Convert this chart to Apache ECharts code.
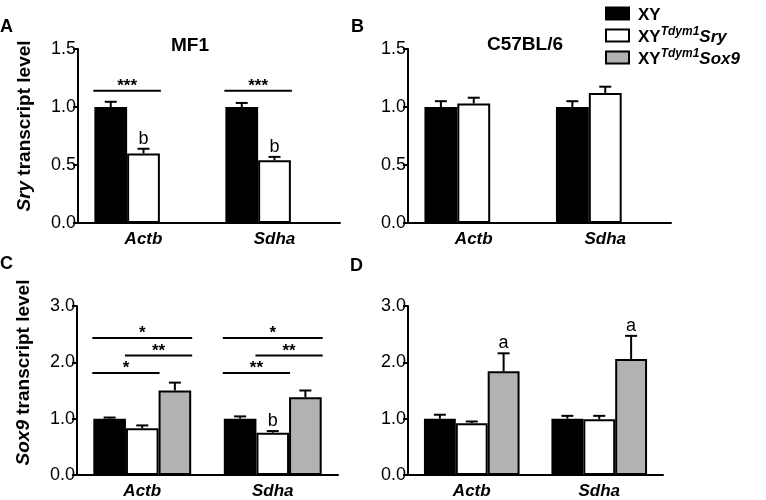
<!DOCTYPE html>
<html><head><meta charset="utf-8">
<script src="https://cdn.jsdelivr.net/npm/echarts@6/dist/echarts.min.js"></script>
<style>html,body{margin:0;padding:0;background:#fff}#c{width:766px;height:500px}</style>
</head><body><div id="c"></div>
<script>
const categories = ['Actb', 'Sdha'];
const seriesNames = ['XY', 'XY Tdym1 Sry', 'XY Tdym1 Sox9'];
const yTicksSry = [0, 0.5, 1.0, 1.5];
const yTicksSox9 = [0, 1.0, 2.0, 3.0];

// Panel A (MF1) - Sry transcript level
const A_XY = [1.00, 1.00];      const A_XY_SEM = [0.045, 0.035];
const A_SRY = [0.60, 0.54];     const A_SRY_SEM = [0.04, 0.03];
const A_SOX9 = [null, null];    const A_SOX9_SEM = [null, null];
// Panel B (C57BL/6) - Sry transcript level
const B_XY = [1.00, 1.00];      const B_XY_SEM = [0.05, 0.05];
const B_SRY = [1.03, 1.12];     const B_SRY_SEM = [0.05, 0.055];
const B_SOX9 = [null, null];    const B_SOX9_SEM = [null, null];
// Panel C (MF1) - Sox9 transcript level
const C_XY = [1.00, 1.00];      const C_XY_SEM = [0.02, 0.04];
const C_SRY = [0.83, 0.75];     const C_SRY_SEM = [0.05, 0.03];
const C_SOX9 = [1.50, 1.38];    const C_SOX9_SEM = [0.14, 0.12];
// Panel D (C57BL/6) - Sox9 transcript level
const D_XY = [1.00, 1.00];      const D_XY_SEM = [0.07, 0.05];
const D_SRY = [0.92, 0.99];     const D_SRY_SEM = [0.03, 0.06];
const D_SOX9 = [1.84, 2.06];    const D_SOX9_SEM = [0.32, 0.41];

// Significance brackets: [category, fromBar, toBar, level, label]
const A_SIG = [[0, 0, 1, 1.14, '***'], [1, 0, 1, 1.14, '***']];
const C_SIG = [
  [0, 0, 2, 2.43, '*'], [0, 1, 2, 2.12, '**'], [0, 0, 1, 1.81, '*'],
  [1, 0, 2, 2.43, '*'], [1, 1, 2, 2.12, '**'], [1, 0, 1, 1.81, '**']
];
// Letter annotations: [category, bar, letter]
const A_LET = [[0, 1, 'b'], [1, 1, 'b']];
const C_LET = [[1, 1, 'b']];
const D_LET = [[0, 2, 'a'], [1, 2, 'a']];

const FONT = 'Liberation Sans, Arial, Helvetica, sans-serif';
const BAR_FRAC = 0.25; // each bar = 25% of the category band

const panels = [
  {grid: {left: 78, top: 49, width: 262, height: 174}, max: 1.5, interval: 0.5,
   means: [A_XY, A_SRY, A_SOX9], sems: [A_XY_SEM, A_SRY_SEM, A_SOX9_SEM], sig: A_SIG, let: A_LET,
   yName: '{i|Sry} transcript level', namePad: 20},
  {grid: {left: 408, top: 49, width: 263, height: 174}, max: 1.5, interval: 0.5,
   means: [B_XY, B_SRY, B_SOX9], sems: [B_XY_SEM, B_SRY_SEM, B_SOX9_SEM], sig: [], let: [],
   yName: '', namePad: 0},
  {grid: {left: 77, top: 306, width: 261, height: 170}, max: 3, interval: 1,
   means: [C_XY, C_SRY, C_SOX9], sems: [C_XY_SEM, C_SRY_SEM, C_SOX9_SEM], sig: C_SIG, let: C_LET,
   yName: '{i|Sox9} transcript level', namePad: 36},
  {grid: {left: 408, top: 306, width: 255, height: 170}, max: 3, interval: 1,
   means: [D_XY, D_SRY, D_SOX9], sems: [D_XY_SEM, D_SRY_SEM, D_SOX9_SEM], sig: [], let: D_LET,
   yName: '', namePad: 0}
];

const barStyles = [
  {color: '#000000', borderColor: '#000000', borderWidth: 2},
  {color: '#ffffff', borderColor: '#000000', borderWidth: 2},
  {color: '#b2b2b2', borderColor: '#000000', borderWidth: 2}
];

const grids = [], xAxes = [], yAxes = [], series = [];
panels.forEach((p, pi) => {
  grids.push(p.grid);
  xAxes.push({
    type: 'category', gridIndex: pi, data: categories,
    axisLine: {lineStyle: {color: '#000', width: 2}},
    axisTick: {alignWithLabel: true, length: 5, lineStyle: {width: 2, color: '#000'}},
    axisLabel: {color: '#000', fontFamily: FONT, fontSize: 17, fontWeight: 'bold', fontStyle: 'italic', margin: 8}
  });
  yAxes.push({
    type: 'value', gridIndex: pi, min: 0, max: p.max, interval: p.interval,
    name: p.yName, nameLocation: 'middle', nameGap: 44,
    nameTextStyle: {color: '#000', fontFamily: FONT, fontSize: 19, fontWeight: 'bold',
      padding: [0, 0, 0, p.namePad],
      rich: {i: {fontStyle: 'italic', fontWeight: 'bold', fontSize: 19, fontFamily: FONT, color: '#000'}}},
    axisLine: {show: true, lineStyle: {color: '#000', width: 2}},
    axisTick: {show: true, length: 5, lineStyle: {width: 2, color: '#000'}},
    splitLine: {show: false},
    axisLabel: {color: '#000', fontFamily: FONT, fontSize: 18, margin: 2, formatter: v => v.toFixed(1)}
  });
  p.means.forEach((m, si) => {
    series.push({
      type: 'bar', name: seriesNames[si], xAxisIndex: pi, yAxisIndex: pi, data: m,
      barGap: '0%', barCategoryGap: '25%', itemStyle: barStyles[si], z: 2
    });
  });
  // error bars
  const errData = [];
  p.means.forEach((m, si) => m.forEach((v, ci) => {
    if (v != null) errData.push([ci, si, v, p.sems[si][ci]]);
  }));
  series.push({
    type: 'custom', xAxisIndex: pi, yAxisIndex: pi, data: errData, z: 3, silent: true,
    renderItem: (params, api) => {
      const ci = api.value(0), si = api.value(1), m = api.value(2), e = api.value(3);
      const band = api.size([1, 0])[0];
      const base = api.coord([ci, m]);
      const x = base[0] + (si - 1) * band * BAR_FRAC;
      const yTop = api.coord([ci, m + e])[1];
      const cap = 6;
      return {type: 'group', children: [
        {type: 'line', shape: {x1: x, y1: base[1], x2: x, y2: yTop}, style: {stroke: '#000', lineWidth: 2}},
        {type: 'line', shape: {x1: x - cap, y1: yTop, x2: x + cap, y2: yTop}, style: {stroke: '#000', lineWidth: 2}}
      ]};
    }
  });
  // significance brackets
  if (p.sig.length) series.push({
    type: 'custom', xAxisIndex: pi, yAxisIndex: pi, data: p.sig, z: 3, silent: true,
    renderItem: (params, api) => {
      const d = p.sig[params.dataIndex];
      const band = api.size([1, 0])[0];
      const c = api.coord([d[0], d[3]]);
      const bw = band * BAR_FRAC;
      const x1 = c[0] + (d[1] - 1) * bw - bw / 2 - 1;
      const x2 = c[0] + (d[2] - 1) * bw + bw / 2 + 1;
      return {type: 'group', children: [
        {type: 'line', shape: {x1: x1, y1: c[1], x2: x2, y2: c[1]}, style: {stroke: '#000', lineWidth: 2}},
        {type: 'text', x: (x1 + x2) / 2, y: c[1] + 4,
         style: {text: d[4], fill: '#000', font: 'bold 17px ' + FONT, textAlign: 'center', textVerticalAlign: 'bottom'}}
      ]};
    }
  });
  // letters
  if (p.let.length) series.push({
    type: 'custom', xAxisIndex: pi, yAxisIndex: pi, data: p.let, z: 3, silent: true,
    renderItem: (params, api) => {
      const d = p.let[params.dataIndex];
      const m = p.means[d[1]][d[0]], e = p.sems[d[1]][d[0]];
      const band = api.size([1, 0])[0];
      const c = api.coord([d[0], m + e]);
      const x = c[0] + (d[1] - 1) * band * BAR_FRAC;
      return {type: 'text', x: x, y: c[1] - 1,
        style: {text: d[2], fill: '#000', font: '18px ' + FONT, textAlign: 'center', textVerticalAlign: 'bottom'}};
    }
  });
});

const legendFmt = {
  'XY': '{s|}{b|XY}',
  'XY Tdym1 Sry': '{s|}{b|XY}{sup|Tdym1}{it|Sry}',
  'XY Tdym1 Sox9': '{s|}{b|XY}{sup|Tdym1}{it|Sox9}'
};

const chart = echarts.init(document.getElementById('c'), null, {renderer: 'canvas'});
chart.setOption({
  animation: false,
  backgroundColor: '#fff',
  grid: grids, xAxis: xAxes, yAxis: yAxes, series: series,
  legend: {
    orient: 'vertical', left: 600, top: 0, itemWidth: 23, itemHeight: 12, itemGap: 2,
    icon: 'rect', selectedMode: false, data: seriesNames,
    formatter: n => legendFmt[n],
    textStyle: {color: '#000', fontFamily: FONT, fontSize: 17, fontWeight: 'bold',
      rich: {
        s: {width: 4, lineHeight: 20},
        b: {fontSize: 17, fontWeight: 'bold', fontFamily: FONT, color: '#000', verticalAlign: 'bottom', lineHeight: 20},
        sup: {fontSize: 12, fontWeight: 'bold', fontStyle: 'italic', fontFamily: FONT, color: '#000', verticalAlign: 'top', lineHeight: 20},
        it: {fontSize: 17, fontWeight: 'bold', fontStyle: 'italic', fontFamily: FONT, color: '#000', verticalAlign: 'bottom', lineHeight: 20}
      }}
  },
  graphic: [
    {type: 'text', left: 0, top: 18, style: {text: 'A', font: 'bold 18px ' + FONT, fill: '#000'}},
    {type: 'text', left: 351, top: 18, style: {text: 'B', font: 'bold 18px ' + FONT, fill: '#000'}},
    {type: 'text', left: 0, top: 255, style: {text: 'C', font: 'bold 18px ' + FONT, fill: '#000'}},
    {type: 'text', left: 350, top: 257, style: {text: 'D', font: 'bold 18px ' + FONT, fill: '#000'}},
    {type: 'text', left: 171, top: 36, style: {text: 'MF1', font: 'bold 19px ' + FONT, fill: '#000'}},
    {type: 'text', left: 487, top: 35, style: {text: 'C57BL/6', font: 'bold 19px ' + FONT, fill: '#000'}}
  ]
});
</script></body></html>
